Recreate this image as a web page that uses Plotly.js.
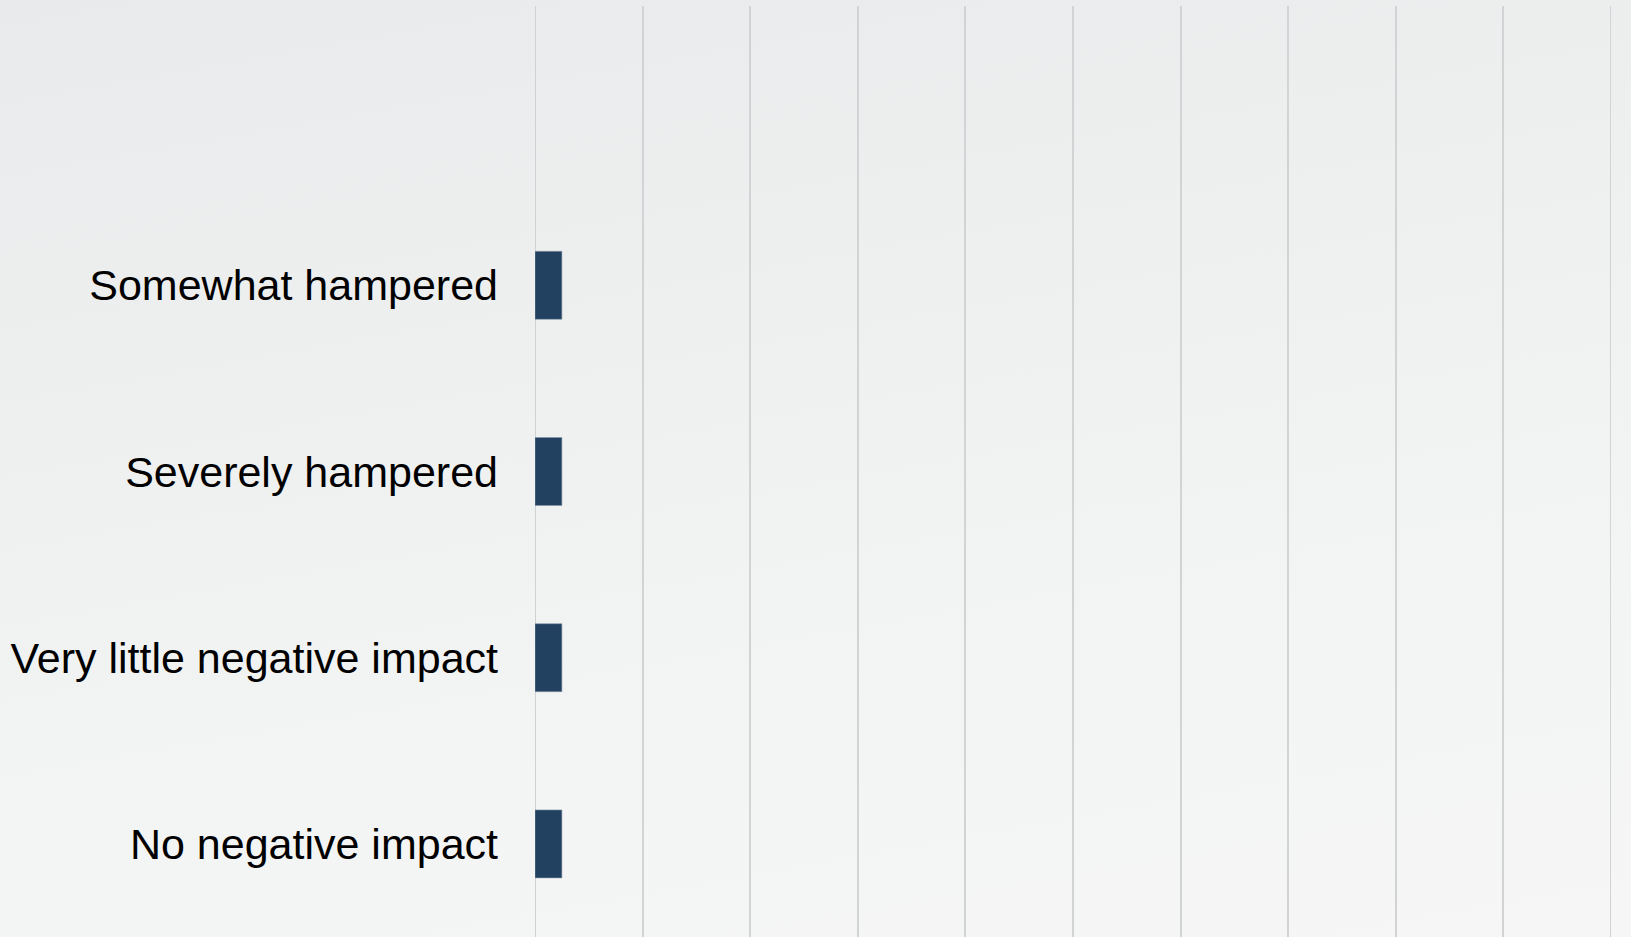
<!DOCTYPE html>
<html>
<head>
<meta charset="utf-8">
<script src="https://cdn.plot.ly/plotly-3.0.1.min.js"></script>
<style>
  html, body { margin: 0; padding: 0; width: 1631px; height: 937px; overflow: hidden;
    background: linear-gradient(170deg, #e9eaeb 0%, #eeefef 35%, #f3f4f4 70%, #f6f6f6 100%); }
  #chart { width: 1631px; height: 937px; }
</style>
</head>
<body>
<div id="chart"></div>
<script>
// Categories listed bottom to top; the top slot of the axis is empty in the reference
const categories = ["No negative impact", "Very little negative impact", "Severely hampered", "Somewhat hampered"];
const values = [2.5, 2.5, 2.5, 2.5];
const xTickVals = [0, 10, 20, 30, 40, 50, 60, 70, 80, 90, 100];

const trace = {
  type: 'bar',
  orientation: 'h',
  y: categories,
  x: values,
  width: 0.365,
  marker: { color: '#22405f', line: { color: '#8697ab', width: 0.6 } },
  hoverinfo: 'x+y'
};

const layout = {
  width: 1631, height: 937,
  margin: { l: 535, r: 20, t: 6, b: 0, pad: 0 },
  paper_bgcolor: 'rgba(0,0,0,0)',
  plot_bgcolor: 'rgba(0,0,0,0)',
  showlegend: false,
  xaxis: {
    range: [0, 100],
    tickvals: xTickVals,
    showticklabels: false,
    showgrid: true,
    gridcolor: '#d2d3d4',
    gridwidth: 2,
    zeroline: false,
    showline: false,
    fixedrange: true
  },
  yaxis: {
    type: 'category',
    categoryorder: 'array',
    categoryarray: categories,
    range: [-0.5, 4.5],
    showgrid: false,
    zeroline: false,
    showline: false,
    ticks: '',
    ticklabelstandoff: 36,
    tickfont: { family: 'Liberation Sans, Arial, sans-serif', size: 43, color: '#000000' },
    fixedrange: true
  },
  shapes: [
    { type: 'line', xref: 'x', yref: 'paper', x0: xTickVals[0], x1: xTickVals[0], y0: 0, y1: 1,
      line: { color: '#d0d1d2', width: 2 }, layer: 'below' },
    { type: 'line', xref: 'x', yref: 'paper', x0: xTickVals[xTickVals.length - 1], x1: xTickVals[xTickVals.length - 1], y0: 0, y1: 1,
      line: { color: '#d2d3d4', width: 2 }, layer: 'below' }
  ]
};

Plotly.newPlot('chart', [trace], layout, { displayModeBar: false, staticPlot: true });
</script>
</body>
</html>
